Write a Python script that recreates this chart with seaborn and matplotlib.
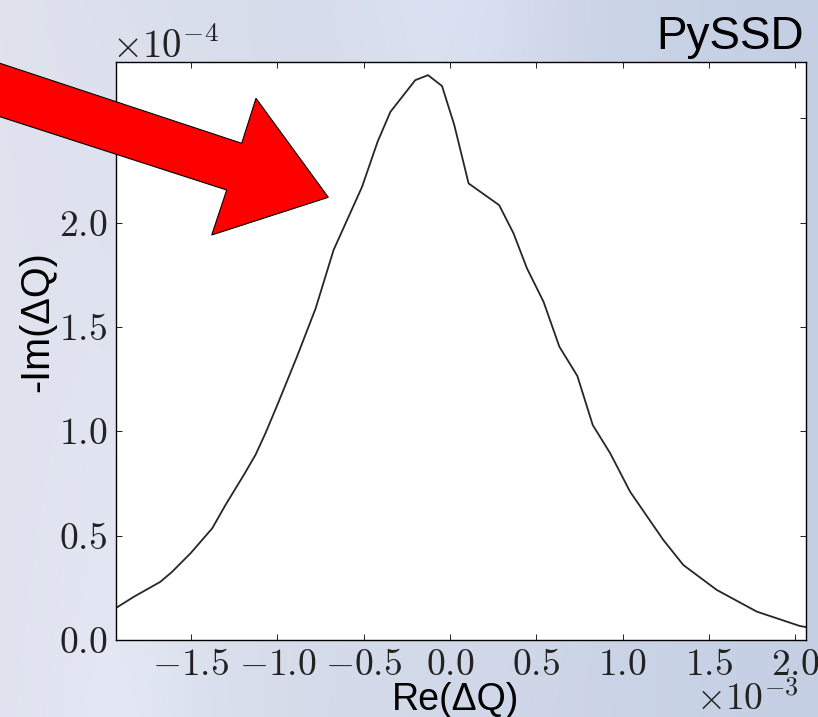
import numpy as np
import pandas as pd
import matplotlib
matplotlib.use("Agg")
import matplotlib.pyplot as plt
from matplotlib.patches import Polygon
from matplotlib.transforms import Affine2D
import seaborn as sns

# ---- data ----
re_dq_e3 = [-1.937, -1.831, -1.677, -1.609, -1.503, -1.377, -1.300, -1.194, -1.127,
            -1.069, -0.992, -0.885, -0.778, -0.674, -0.509, -0.419, -0.345, -0.201,
            -0.127, -0.046, 0.025, 0.108, 0.285, 0.368, 0.446, 0.542, 0.634, 0.738,
            0.827, 0.928, 1.043, 1.236, 1.352, 1.545, 1.777, 2.027, 2.062]
im_dq_e4 = [0.152, 0.207, 0.279, 0.327, 0.415, 0.535, 0.647, 0.791, 0.886,
            0.990, 1.142, 1.360, 1.589, 1.869, 2.172, 2.388, 2.531, 2.683,
            2.707, 2.655, 2.468, 2.188, 2.084, 1.949, 1.781, 1.621, 1.405, 1.265,
            1.030, 0.895, 0.711, 0.479, 0.359, 0.240, 0.136, 0.067, 0.062]
x_label = "Re(ΔQ)"
y_label = "-Im(ΔQ)"
title_text = "PySSD"

df = pd.DataFrame({"re": np.array(re_dq_e3) * 1e-3,
                   "im": np.array(im_dq_e4) * 1e-4})

sns.set_style("ticks")
plt.rcParams.update({
    "font.family": ["cmr10", "DejaVu Serif"],
    "mathtext.fontset": "cm",
    "axes.formatter.use_mathtext": True,
    "axes.unicode_minus": True,
    "xtick.direction": "in",
    "ytick.direction": "in",
    "xtick.top": True,
    "ytick.right": True,
    "xtick.major.size": 4.5,
    "ytick.major.size": 4.5,
    "xtick.major.width": 0.7,
    "ytick.major.width": 0.7,
    "xtick.color": "#222222",
    "ytick.color": "#222222",
    "xtick.labelcolor": "#222222",
    "ytick.labelcolor": "#222222",
    "xtick.labelsize": 27,
    "ytick.labelsize": 27,
    "xtick.major.pad": 6,
    "ytick.major.pad": 6,
    "axes.edgecolor": "black",
    "axes.linewidth": 1.0,
})

W, H = 818, 717
fig = plt.figure(figsize=(W / 100, H / 100), dpi=100)

# background (slide-like soft blue-grey)
yy, xx = np.mgrid[0:H, 0:W]
u = xx / W
v = yy / H
c_left = np.array([224, 227, 238]) / 255
c_right = np.array([196, 207, 228]) / 255
base = c_left[None, None, :] * (1 - u[..., None]) + c_right[None, None, :] * u[..., None]
streak = 0.035 * np.exp(-((u - 0.55) / 0.12) ** 2) * (1 - v)
streak2 = 0.03 * np.exp(-((u - 0.15) / 0.1) ** 2) * v
bg = np.clip(base + streak[..., None] + streak2[..., None], 0, 1)
bg_ax = fig.add_axes([0, 0, 1, 1], zorder=-5)
bg_ax.imshow(bg, aspect="auto", interpolation="bilinear")
bg_ax.axis("off")

ax_l, ax_r, ax_t, ax_b = 115.5, 806, 62, 640
ax = fig.add_axes([ax_l / W, 1 - ax_b / H, (ax_r - ax_l) / W, (ax_b - ax_t) / H])
ax.set_facecolor("white")
sns.lineplot(data=df, x="re", y="im", ax=ax, color="#262626", linewidth=1.3,
             estimator=None, sort=False)
ax.set_xlim(df["re"].min(), df["re"].max())
ax.set_ylim(0, 2.77e-4)
ax.set_xticks(np.arange(-1.5, 2.01, 0.5) * 1e-3)
ax.set_yticks(np.arange(0, 2.51, 0.5) * 1e-4)
ax.ticklabel_format(style="sci", scilimits=(0, 0), useMathText=True)
xo = ax.xaxis.get_offset_text()
yo = ax.yaxis.get_offset_text()
xo.set_fontsize(27)
yo.set_fontsize(28)
xo.set_transform(xo.get_transform() + Affine2D().translate(-7, 6))
yo.set_transform(yo.get_transform() + Affine2D().translate(-3, 0))
for s in ax.spines.values():
    s.set_visible(True)

sans = ["Liberation Sans", "DejaVu Sans"]
xl = ax.set_xlabel(x_label, fontsize=27, family=sans, color="black")
xl.set_va("baseline")
ax.xaxis.set_label_coords((455.5 - ax_l) / (ax_r - ax_l), (ax_b - 710) / (ax_b - ax_t))
ax.set_ylabel(y_label, fontsize=28.5, family=sans, color="black")
ax.yaxis.set_label_coords((56 - ax_l) / (ax_r - ax_l), (ax_b - 322) / (ax_b - ax_t))

fig.text(804 / W, 1 - 49 / H, title_text, ha="right", va="baseline",
         fontsize=33, family=sans, color="black")

# red arrow annotation (pixel positions -> figure fraction)
arrow_px = [(-10, 60), (241.7, 143.3), (256, 98.3), (328.3, 197.3),
            (211.7, 235), (226.7, 190), (-10, 113.5)]
arrow = Polygon([(x / W, 1 - y / H) for x, y in arrow_px], closed=True,
                transform=fig.transFigure, facecolor="#ff0000",
                edgecolor="black", linewidth=0.8, zorder=20)
fig.patches.append(arrow)

fig.savefig("out.png", dpi=100)
